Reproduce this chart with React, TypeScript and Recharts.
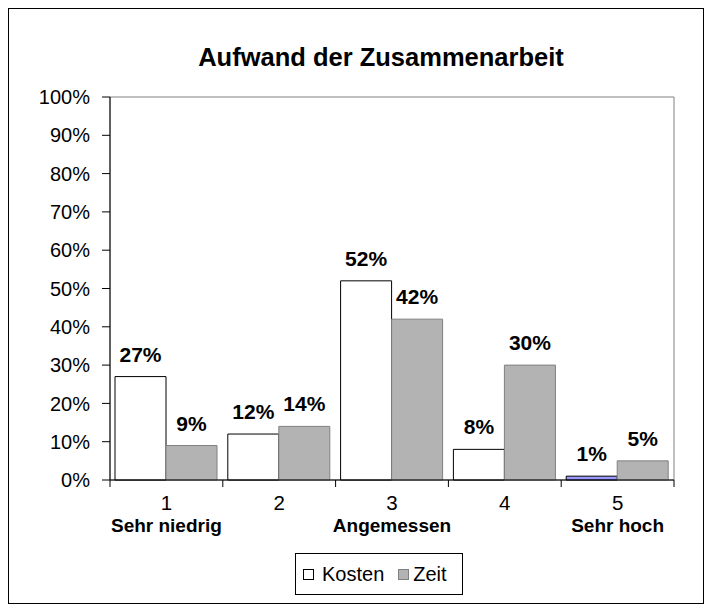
import React from 'react';
import { BarChart, Bar, XAxis, YAxis, LabelList, Legend, ReferenceArea, Cell } from 'recharts';

const title = 'Aufwand der Zusammenarbeit';
const categories = ['1', '2', '3', '4', '5'];
const subLabels = ['Sehr niedrig', '', 'Angemessen', '', 'Sehr hoch'];
const kosten = [0.27, 0.12, 0.52, 0.08, 0.01];
const zeit = [0.09, 0.14, 0.42, 0.3, 0.05];
const yTicks = [0, 0.1, 0.2, 0.3, 0.4, 0.5, 0.6, 0.7, 0.8, 0.9, 1];
const seriesNames = ['Kosten', 'Zeit'];
const kostenColors = ['#ffffff', '#ffffff', '#ffffff', '#ffffff', '#9999ff'];

const data = categories.map((c, i) => ({ cat: c, kosten: kosten[i], zeit: zeit[i] }));

const FONT = '"Liberation Sans", Arial, sans-serif';
const ZEIT_FILL = '#b3b3b3';
const ZEIT_STROKE = '#808080';

const pct = (v: number) => `${Math.round(v * 100)}%`;

const XTick = (props: any) => {
  const { x, y, payload, index, visibleTicksCount } = props;
  const off = payload && typeof payload.offset === 'number' ? payload.offset : 0;
  const sub = subLabels[index];
  return (
    <g>
      <line x1={x - off} x2={x - off} y1={y} y2={y + 7} stroke="#000" strokeWidth={1} />
      {index === visibleTicksCount - 1 && (
        <line x1={x + off} x2={x + off} y1={y} y2={y + 7} stroke="#000" strokeWidth={1} />
      )}
      <text x={x} y={y + 30} textAnchor="middle" fontSize={20.5} fontFamily={FONT} fill="#000">
        {payload.value}
      </text>
      {sub && (
        <text x={x} y={y + 52} textAnchor="middle" fontSize={19} fontWeight="bold" fontFamily={FONT} fill="#000">
          {sub}
        </text>
      )}
    </g>
  );
};

const renderLabel = (props: any) => {
  const { x, y, width, value } = props;
  return (
    <text
      x={Number(x) + Number(width) / 2}
      y={Number(y) - 15}
      textAnchor="middle"
      fontSize={21}
      fontWeight="bold"
      fontFamily={FONT}
      fill="#000"
    >
      {pct(Number(value))}
    </text>
  );
};

const LegendBox = () => (
  <div
    style={{
      width: 168,
      height: 42,
      boxSizing: 'border-box',
      border: '1px solid #000',
      background: '#fff',
      display: 'flex',
      alignItems: 'center',
      justifyContent: 'flex-start',
      paddingLeft: 7,
      fontFamily: FONT,
      fontSize: 20,
      color: '#000',
      whiteSpace: 'nowrap',
    }}
  >
    <span style={{ width: 11, height: 11, border: '1px solid #000', background: '#fff', boxSizing: 'border-box', marginRight: 8, flex: 'none' }} />
    <span style={{ marginRight: 14 }}>{seriesNames[0]}</span>
    <span style={{ width: 11, height: 11, border: `1px solid ${ZEIT_STROKE}`, background: ZEIT_FILL, boxSizing: 'border-box', marginRight: 4, flex: 'none' }} />
    <span>{seriesNames[1]}</span>
  </div>
);

export default function App() {
  return (
    <div style={{ width: 694, height: 594, border: '1px solid #000', fontFamily: FONT, background: '#fff' }}>
      <BarChart
        width={694}
        height={594}
        data={data}
        margin={{ top: 88, right: 29, left: 0, bottom: 63 }}
        barCategoryGap={5}
        barGap={0}
      >
        <text x={372} y={57} textAnchor="middle" fontSize={25.5} fontWeight="bold" fontFamily={FONT} fill="#000">
          {title}
        </text>
        <ReferenceArea x1={categories[0]} x2={categories[categories.length - 1]} y1={0} y2={1} fill="none" stroke="#808080" strokeWidth={1} ifOverflow="visible" />
        <YAxis
          width={101}
          domain={[0, 1]}
          ticks={yTicks}
          interval={0}
          tickFormatter={pct}
          tickSize={8}
          tickMargin={12}
          axisLine={{ stroke: '#000' }}
          tickLine={{ stroke: '#000' }}
          tick={{ fontSize: 20, fill: '#000', fontFamily: FONT }}
        />
        <XAxis
          dataKey="cat"
          height={60}
          interval={0}
          tickSize={0}
          tickMargin={0}
          tickLine={false}
          axisLine={{ stroke: '#000' }}
          tick={<XTick />}
        />
        <Legend
          layout="horizontal"
          verticalAlign="middle"
          align="center"
          wrapperStyle={{ top: 544, left: 286, width: 168, height: 42 }}
          content={() => <LegendBox />}
        />
        <Bar dataKey="kosten" name={seriesNames[0]} fill="#ffffff" stroke="#000" strokeWidth={1} isAnimationActive={false}>
          {data.map((_, i) => (
            <Cell key={i} fill={kostenColors[i]} />
          ))}
          <LabelList dataKey="kosten" content={renderLabel} />
        </Bar>
        <Bar dataKey="zeit" name={seriesNames[1]} fill={ZEIT_FILL} stroke={ZEIT_STROKE} strokeWidth={1} isAnimationActive={false}>
          <LabelList dataKey="zeit" content={renderLabel} />
        </Bar>
      </BarChart>
    </div>
  );
}
